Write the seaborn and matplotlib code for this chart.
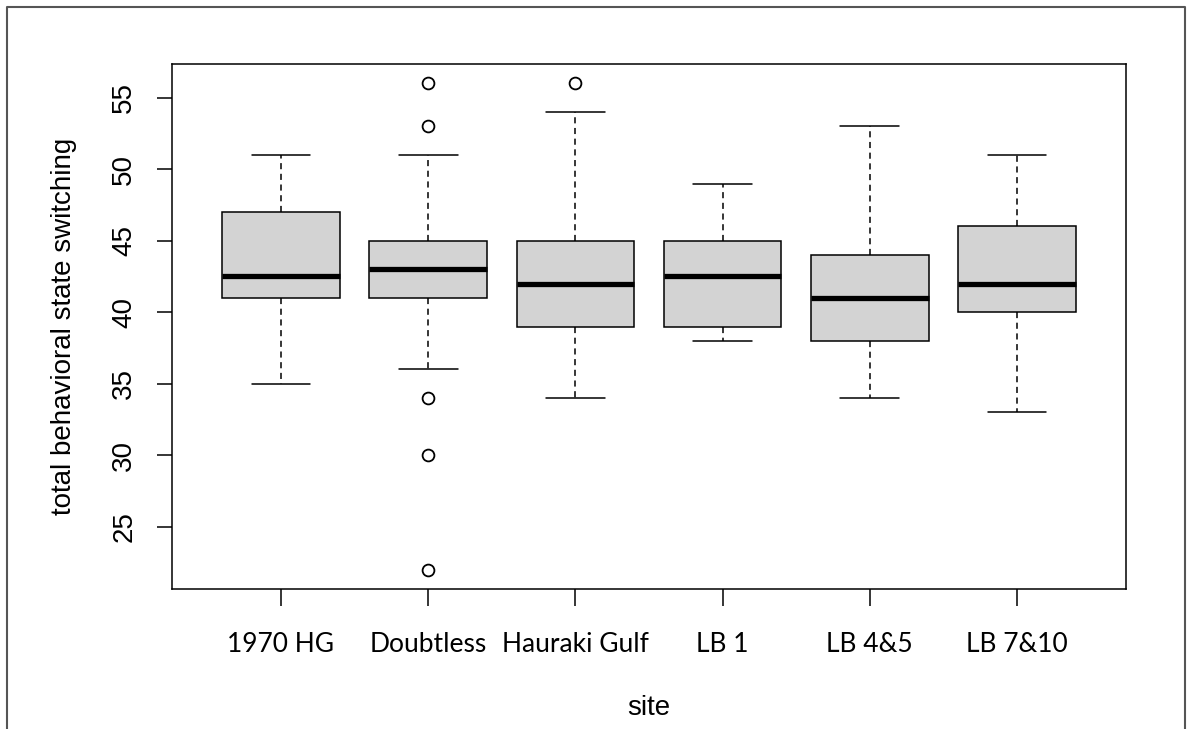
import pandas as pd
import matplotlib.pyplot as plt
import seaborn as sns
from matplotlib.lines import Line2D

# box summaries: lower whisker, Q1, median, Q3, upper whisker
sites = ["1970 HG", "Doubtless", "Hauraki Gulf", "LB 1", "LB 4&5", "LB 7&10"]
low_whisker = [35, 36, 34, 38, 34, 33]
q1 = [41, 41, 39, 39, 38, 40]
median = [42.5, 43, 42, 42.5, 41, 42]
q3 = [47, 45, 45, 45, 44, 46]
high_whisker = [51, 51, 54, 49, 53, 51]

# outliers
outlier_sites = ["Doubtless", "Doubtless", "Doubtless", "Doubtless", "Doubtless", "Hauraki Gulf"]
outlier_values = [56, 53, 34, 30, 22, 56]

rows = []
for i, s in enumerate(sites):
    for v in (low_whisker[i], q1[i], median[i], q3[i], high_whisker[i]):
        rows.append({"site": s, "value": v})
df = pd.DataFrame(rows)
df_out = pd.DataFrame({"site": outlier_sites, "value": outlier_values})

sns.set_theme(style="white")
plt.rcParams["font.family"] = ["Liberation Sans", "DejaVu Sans"]
plt.rcParams["text.color"] = "black"
plt.rcParams["axes.labelcolor"] = "black"
plt.rcParams["xtick.color"] = "black"
plt.rcParams["ytick.color"] = "black"

fig = plt.figure(figsize=(11.93, 7.29), dpi=100)
ax = fig.add_axes([0.1442, 0.192, 0.7996, 0.7202])

sns.boxplot(data=df, x="site", y="value", order=sites, width=0.8,
            color="#D3D3D3", saturation=1, linecolor="black", linewidth=1.1,
            showfliers=False, ax=ax,
            whiskerprops=dict(linestyle=(0, (4, 3))),
            medianprops=dict(linewidth=3.8))
sns.stripplot(data=df_out, x="site", y="value", order=sites, jitter=False,
              color="white", edgecolor="black", linewidth=1.3, size=8.5, ax=ax)

ax.set_xlim(-0.74, 5.74)
ax.set_ylim(20.64, 57.36)
ax.set_yticks([25, 30, 35, 40, 45, 50, 55])
ax.tick_params(axis="y", labelsize=20, length=11, width=1.1,
               pad=14, left=True, labelrotation=90)
ax.tick_params(axis="x", length=12, width=1.1, pad=19, bottom=True)
for lab in ax.get_yticklabels():
    lab.set_va("center")
for lab in ax.get_xticklabels():
    lab.set_fontfamily("Lato")
    lab.set_fontsize(19)
for sp in ax.spines.values():
    sp.set_color("black")
    sp.set_linewidth(1.1)
ax.set_xlabel("site", fontsize=20, labelpad=27)
ax.set_ylabel("total behavioral state switching", fontsize=20, labelpad=25)

# screenshot frame
fig.add_artist(Line2D([7 / 1193, 7 / 1193, 1185 / 1193, 1185 / 1193],
                      [-0.01, 1 - 7 / 729, 1 - 7 / 729, -0.01],
                      color="#555555", linewidth=1.5, transform=fig.transFigure))

fig.savefig("out.png", dpi=100)
